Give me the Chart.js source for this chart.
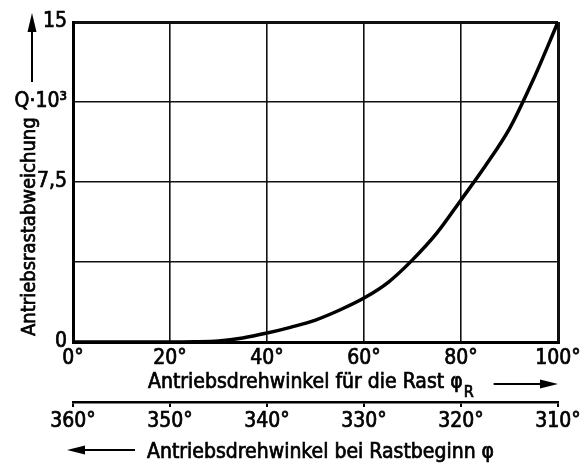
<!DOCTYPE html>
<html lang="de">
<head>
  <meta charset="UTF-8" />
  <title>Antriebsrastabweichung</title>
  <script src="https://cdn.jsdelivr.net/npm/chart.js"></script>
  <style>
    * { margin: 0; padding: 0; box-sizing: border-box; }
    body { background: #fff; width: 587px; height: 465px; overflow: hidden; }
    .wrap { position: relative; width: 587px; height: 465px; }
  </style>
</head>
<body>
  <div class="wrap"><canvas id="rast"></canvas></div>

  <script>
    // Antriebsdrehwinkel für die Rast (Grad) und Rastabweichung Q·10³
    const angleR = [0, 10, 20, 25, 30, 35, 40, 45, 50, 55, 60, 65, 70, 75, 80, 85, 90, 95, 100];
    const deviation = [0, 0, 0, 0.01, 0.05, 0.19, 0.42, 0.7, 1.03, 1.5, 2.06, 2.8, 3.85, 5.1, 6.66, 8.25, 10.0, 12.35, 15];
    // obere Skala 0..100°, untere Skala 360..310°
    const xTicks = [0, 20, 40, 60, 80, 100];
    const startTicks = [360, 350, 340, 330, 320, 310];
    const yTickValues = [0, 3.75, 7.5, 11.25, 15];
    const yTickLabels = ['0', '', '7,5', 'Q·10³', '15'];

    const FONT = "'DejaVu Sans Condensed', 'DejaVu Sans', sans-serif";
    const FS = 21;
    const STROKE = 0.7;

    function label(ctx, text, x, y) {
      ctx.fillText(text, x, y);
      ctx.strokeText(text, x, y);
    }

    const titles = {
      id: 'titles',
      afterDraw(chart) {
        const { ctx, chartArea } = chart;
        ctx.save();
        ctx.fillStyle = '#000';
        ctx.strokeStyle = '#000';
        ctx.textAlign = 'left';
        ctx.textBaseline = 'alphabetic';

        // y title, senkrecht
        ctx.save();
        ctx.font = '20px ' + FONT;
        ctx.lineWidth = STROKE;
        ctx.translate(35, chartArea.bottom - 6);
        ctx.rotate(-Math.PI / 2);
        label(ctx, 'Antriebsrastabweichung', 0, 0);
        ctx.restore();

        // Pfeil nach oben
        ctx.lineWidth = 2;
        ctx.beginPath();
        ctx.moveTo(32, 82); ctx.lineTo(32, 28); ctx.stroke();
        ctx.beginPath();
        ctx.moveTo(32, 13); ctx.lineTo(27.5, 32); ctx.lineTo(36.5, 32); ctx.closePath(); ctx.fill();

        // obere x-Achse
        const x1 = 148, b1 = 388;
        ctx.font = FS + 'px ' + FONT;
        ctx.lineWidth = STROKE;
        const t1 = 'Antriebsdrehwinkel für die Rast φ';
        label(ctx, t1, x1, b1);
        let px = x1 + ctx.measureText(t1).width + 1;
        ctx.font = '16px ' + FONT;
        label(ctx, 'R', px, b1 + 9);
        px += ctx.measureText('R').width + 20;
        const ay = 384, ax2 = chartArea.right;
        ctx.lineWidth = 2;
        ctx.beginPath();
        ctx.moveTo(px, ay); ctx.lineTo(ax2 - 14, ay); ctx.stroke();
        ctx.beginPath();
        ctx.moveTo(ax2, ay); ctx.lineTo(ax2 - 18, ay - 4.5); ctx.lineTo(ax2 - 18, ay + 4.5); ctx.closePath(); ctx.fill();

        // untere x-Achse
        const by = 450;
        ctx.beginPath();
        ctx.moveTo(80, by); ctx.lineTo(135, by); ctx.stroke();
        ctx.beginPath();
        ctx.moveTo(67, by); ctx.lineTo(85, by - 4.5); ctx.lineTo(85, by + 4.5); ctx.closePath(); ctx.fill();
        ctx.font = FS + 'px ' + FONT;
        ctx.lineWidth = STROKE;
        label(ctx, 'Antriebsdrehwinkel bei Rastbeginn φ', 147, 458);
        ctx.restore();
      }
    };

    const edge = (lo, hi) => c => (c.tick && (c.tick.value === lo || c.tick.value === hi)) ? 3 : 1.6;
    const tickFont = { family: FONT, size: FS };

    new Chart(document.getElementById('rast'), {
      type: 'line',
      data: {
        datasets: [{
          data: angleR.map((a, i) => ({ x: a, y: deviation[i] })),
          borderColor: '#000',
          borderWidth: 3.5,
          pointRadius: 0,
          cubicInterpolationMode: 'monotone',
          fill: false
        }]
      },
      options: {
        responsive: true,
        maintainAspectRatio: false,
        animation: false,
        layout: { padding: { left: 0, right: 29, top: 22, bottom: 0 } },
        plugins: { legend: { display: false }, tooltip: { enabled: false } },
        scales: {
          x: {
            type: 'linear', position: 'bottom', weight: 0,
            min: 0, max: 100,
            afterBuildTicks: s => { s.ticks = xTicks.map(v => ({ value: v })); },
            afterFit: s => { s.height = 60; },
            ticks: {
              callback: v => v + '°',
              color: '#000', padding: 4, maxRotation: 0,
              textStrokeColor: '#000', textStrokeWidth: STROKE,
              font: tickFont
            },
            grid: { color: '#111', lineWidth: edge(0, 100), drawTicks: false },
            border: { color: '#000', width: 3 }
          },
          x2: {
            type: 'linear', position: 'bottom', weight: 1,
            min: 310, max: 360, reverse: true,
            afterBuildTicks: s => { s.ticks = startTicks.map(v => ({ value: v })); },
            afterFit: s => { s.height = 63; },
            ticks: {
              callback: v => v + '°',
              color: '#000', padding: 2, maxRotation: 0,
              textStrokeColor: '#000', textStrokeWidth: STROKE,
              font: tickFont
            },
            grid: { drawOnChartArea: false, color: '#000', lineWidth: 2, tickLength: 5 },
            border: { color: '#000', width: 2.5 }
          },
          y: {
            min: 0, max: 15,
            afterBuildTicks: s => { s.ticks = yTickValues.map(v => ({ value: v })); },
            afterFit: s => { s.width = 73; },
            ticks: {
              callback: v => yTickLabels[yTickValues.indexOf(v)],
              color: '#000', padding: 6,
              textStrokeColor: '#000', textStrokeWidth: STROKE,
              font: tickFont
            },
            grid: { color: '#111', lineWidth: edge(0, 15), drawTicks: false },
            border: { color: '#000', width: 3 }
          }
        }
      },
      plugins: [titles]
    });
  </script>
</body>
</html>
